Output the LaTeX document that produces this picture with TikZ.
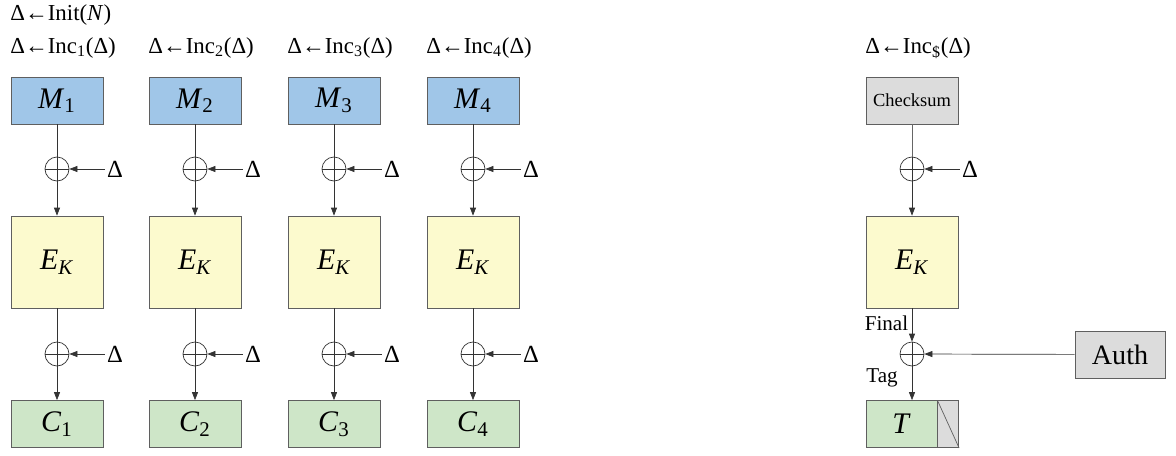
\documentclass[tikz,border=0pt]{standalone}
\usepackage{fontspec}
\setmainfont{Liberation Serif}
\usetikzlibrary{arrows.meta,positioning,calc}
\definecolor{msgblue}{RGB}{160,198,232}
\definecolor{cipheryellow}{RGB}{252,250,206}
\definecolor{ctgreen}{RGB}{206,230,200}
\definecolor{sumgray}{RGB}{220,220,220}
\definecolor{edgegray}{RGB}{95,95,95}

\begin{document}
\begin{tikzpicture}[
    block/.style={draw=edgegray, minimum width=1.84cm, minimum height=0.94cm, inner sep=0pt, font=\fontsize{17}{17}\selectfont},
    cipher/.style={block, fill=cipheryellow, minimum height=1.84cm},
    xor/.style={circle, draw=black!80, minimum size=0.48cm, inner sep=0pt,
        path picture={\draw[black!80] (path picture bounding box.north) -- (path picture bounding box.south)
            (path picture bounding box.west) -- (path picture bounding box.east);}},
    arrow/.style={-{Triangle[length=1.6mm,width=1.2mm]}, black!80},
    delta/.style={font=\fontsize{14}{14}\selectfont, inner sep=1pt},
    inclabel/.style={font=\fontsize{13}{13}\selectfont, anchor=west, inner sep=0pt}
]
    \useasboundingbox (0,0) rectangle (23.52,-9.12);

    \node[inclabel] (init) at (0.2,-0.3) {Δ←Init(\textit{N})};

    % four message blocks
    \foreach \i/\x in {1/1.14, 2/3.9, 3/6.68, 4/9.46} {
        \node[inclabel] (inc\i) at (\x-0.94,-0.96) {Δ←Inc\textsubscript{\i}(Δ)};
        \node[block, fill=msgblue] (m\i) at (\x,-2.01) {\textit{M}\textsubscript{\i}};
        \node[xor] (xa\i) at (\x,-3.38) {};
        \node[delta] (da\i) at (\x+1.16,-3.38) {Δ};
        \node[cipher] (e\i) at (\x,-5.24) {\textit{E}\textsubscript{\textit{K}}};
        \node[xor] (xb\i) at (\x,-7.08) {};
        \node[delta] (db\i) at (\x+1.16,-7.08) {Δ};
        \node[block, fill=ctgreen] (c\i) at (\x,-8.48) {\textit{C}\textsubscript{\i}};

        \draw[black!80] (m\i) -- (xa\i);
        \draw[arrow] (da\i) -- (xa\i);
        \draw[arrow] (xa\i) -- (e\i);
        \draw[black!80] (e\i) -- (xb\i);
        \draw[arrow] (db\i) -- (xb\i);
        \draw[arrow] (xb\i) -- (c\i);
    }

    % checksum column
    \node[inclabel] (incs) at (17.3,-0.96) {Δ←Inc\textsubscript{\$}(Δ)};
    \node[block, fill=sumgray, font=\fontsize{10.5}{10.5}\selectfont] (sum) at (18.24,-2.01) {Checksum};
    \node[xor] (xs) at (18.24,-3.38) {};
    \node[delta] (ds) at (19.4,-3.38) {Δ};
    \node[cipher] (es) at (18.24,-5.24) {\textit{E}\textsubscript{\textit{K}}};
    \node[xor] (xf) at (18.24,-7.08) {};
    \node[block, fill=sumgray, minimum width=1.8cm, font=\fontsize{16}{16}\selectfont] (auth) at (22.4,-7.09) {Auth};
    \node[block, fill=ctgreen, minimum width=1.42cm] (tag) at (18.03,-8.48) {\textit{T}};
    \node[block, fill=sumgray, minimum width=0.42cm, right=0pt of tag] (tagrest) {};
    \node[font=\fontsize{12}{12}\selectfont, anchor=east, inner sep=0pt] (final) at (18.17,-6.46) {Final};
    \node[font=\fontsize{12}{12}\selectfont, anchor=west, inner sep=0pt] (taglabel) at (17.32,-7.56) {Tag};

    \draw[black!60] (sum) -- (xs);
    \draw[arrow] (ds) -- (xs);
    \draw[arrow] (xs) -- (es);
    \draw[arrow] (es) -- (xf);
    \draw[arrow] (auth) -- (xf);
    \draw[arrow] (xf) -- (xf |- tag.north);
    \draw[edgegray] (tagrest.north west) -- (tagrest.south east);
\end{tikzpicture}
\end{document}
